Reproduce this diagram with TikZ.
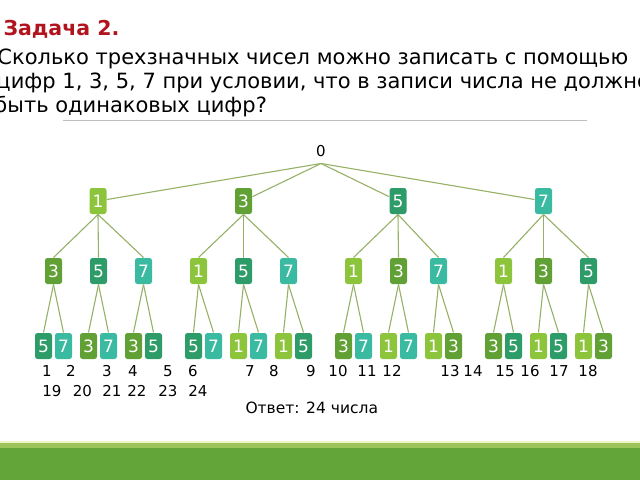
\documentclass[tikz,border=0pt]{standalone}
\usepackage{fontspec}
\setmainfont{DejaVu Sans}
\definecolor{cone}{RGB}{140,196,60}
\definecolor{cthree}{RGB}{96,160,52}
\definecolor{cfive}{RGB}{46,156,104}
\definecolor{cseven}{RGB}{58,186,160}
\definecolor{edgec}{RGB}{150,176,102}
\definecolor{titlered}{RGB}{178,20,30}
\definecolor{bandpale}{RGB}{236,244,200}
\definecolor{bandlight}{RGB}{157,197,91}
\definecolor{banddark}{RGB}{99,165,57}
\begin{document}
\begin{tikzpicture}[x=1pt,y=-1pt,line width=1pt,
  dig/.style={rounded corners=2.5pt,minimum width=17pt,minimum height=26pt,inner sep=0pt,
    text=white,font=\fontsize{17}{17}\selectfont},
  one/.style={dig,fill=cone},
  three/.style={dig,fill=cthree},
  five/.style={dig,fill=cfive},
  seven/.style={dig,fill=cseven},
  edge/.style={draw=edgec,line width=1.1pt},
  lbl/.style={anchor=base,font=\fontsize{15}{15}\selectfont}]
  \useasboundingbox (0,0) rectangle (640,480);

  % условие задачи
  \node[anchor=base west,inner sep=0pt,text=titlered,font=\fontsize{20.5}{20.5}\selectfont\bfseries]
    (title) at (3,35) {Задача 2.};
  \node[anchor=base west,inner sep=0pt,font=\fontsize{21}{21}\selectfont]
    (t1) at (-3,64) {Сколько трехзначных чисел можно записать с помощью};
  \node[anchor=base west,inner sep=0pt,font=\fontsize{21}{21}\selectfont]
    (t2) at (-4,88) {цифр 1, 3, 5, 7 при условии, что в записи числа не должно};
  \node[anchor=base west,inner sep=0pt,font=\fontsize{21}{21}\selectfont]
    (t3) at (-6,112) {быть одинаковых цифр?};
  \draw[gray!50,line width=0.8pt] (63,120) -- (587,120);

  % корень
  \node[inner sep=1pt,minimum height=24pt,font=\fontsize{15}{15}\selectfont] (r) at (321,151) {0};

  % первая цифра
  \node[one]   (n1) at (98,201)    {1};
  \node[three] (n3) at (243.5,201) {3};
  \node[five]  (n5) at (398,201)   {5};
  \node[seven] (n7) at (543.5,201) {7};

  % вторая цифра
  \node[three] (n13) at (53.5,271)  {3};
  \node[five]  (n15) at (98.5,271)  {5};
  \node[seven] (n17) at (143.5,271) {7};
  \node[one]   (n31) at (198.5,271) {1};
  \node[five]  (n35) at (243.5,271) {5};
  \node[seven] (n37) at (288.5,271) {7};
  \node[one]   (n51) at (353.5,271) {1};
  \node[three] (n53) at (398.5,271) {3};
  \node[seven] (n57) at (438.5,271) {7};
  \node[one]   (n71) at (503.5,271) {1};
  \node[three] (n73) at (543.5,271) {3};
  \node[five]  (n75) at (588.5,271) {5};

  % третья цифра
  \node[five]  (n135) at (43.5,346)  {5};
  \node[seven] (n137) at (63.5,346)  {7};
  \node[three] (n153) at (88.5,346)  {3};
  \node[seven] (n157) at (108.5,346) {7};
  \node[three] (n173) at (133.5,346) {3};
  \node[five]  (n175) at (153.5,346) {5};
  \node[five]  (n315) at (193.5,346) {5};
  \node[seven] (n317) at (213.5,346) {7};
  \node[one]   (n351) at (238.5,346) {1};
  \node[seven] (n357) at (258.5,346) {7};
  \node[one]   (n371) at (283.5,346) {1};
  \node[five]  (n375) at (303.5,346) {5};
  \node[three] (n513) at (343.5,346) {3};
  \node[seven] (n517) at (363.5,346) {7};
  \node[one]   (n531) at (388.5,346) {1};
  \node[seven] (n537) at (408.5,346) {7};
  \node[one]   (n571) at (433.5,346) {1};
  \node[three] (n573) at (453.5,346) {3};
  \node[three] (n713) at (493.5,346) {3};
  \node[five]  (n715) at (513.5,346) {5};
  \node[one]   (n731) at (538.5,346) {1};
  \node[five]  (n735) at (558.5,346) {5};
  \node[one]   (n751) at (583.5,346) {1};
  \node[three] (n753) at (603.5,346) {3};

  % ветви
  \draw[edge] (r.south) -- (n1);
  \draw[edge] (r.south) -- (n3);
  \draw[edge] (r.south) -- (n5);
  \draw[edge] (r.south) -- (n7);

  \draw[edge] (n1.south) -- (n13.north);
  \draw[edge] (n1.south) -- (n15.north);
  \draw[edge] (n1.south) -- (n17.north);
  \draw[edge] (n3.south) -- (n31.north);
  \draw[edge] (n3.south) -- (n35.north);
  \draw[edge] (n3.south) -- (n37.north);
  \draw[edge] (n5.south) -- (n51.north);
  \draw[edge] (n5.south) -- (n53.north);
  \draw[edge] (n5.south) -- (n57.north);
  \draw[edge] (n7.south) -- (n71.north);
  \draw[edge] (n7.south) -- (n73.north);
  \draw[edge] (n7.south) -- (n75.north);

  \draw[edge] (n13.south) -- (n135.north);
  \draw[edge] (n13.south) -- (n137.north);
  \draw[edge] (n15.south) -- (n153.north);
  \draw[edge] (n15.south) -- (n157.north);
  \draw[edge] (n17.south) -- (n173.north);
  \draw[edge] (n17.south) -- (n175.north);
  \draw[edge] (n31.south) -- (n315.north);
  \draw[edge] (n31.south) -- (n317.north);
  \draw[edge] (n35.south) -- (n351.north);
  \draw[edge] (n35.south) -- (n357.north);
  \draw[edge] (n37.south) -- (n371.north);
  \draw[edge] (n37.south) -- (n375.north);
  \draw[edge] (n51.south) -- (n513.north);
  \draw[edge] (n51.south) -- (n517.north);
  \draw[edge] (n53.south) -- (n531.north);
  \draw[edge] (n53.south) -- (n537.north);
  \draw[edge] (n57.south) -- (n571.north);
  \draw[edge] (n57.south) -- (n573.north);
  \draw[edge] (n71.south) -- (n713.north);
  \draw[edge] (n71.south) -- (n715.north);
  \draw[edge] (n73.south) -- (n731.north);
  \draw[edge] (n73.south) -- (n735.north);
  \draw[edge] (n75.south) -- (n751.north);
  \draw[edge] (n75.south) -- (n753.north);

  % нумерация
  \node[lbl] (l1)  at (47,376.5)  {1};
  \node[lbl] (l2)  at (71,376.5)  {2};
  \node[lbl] (l3)  at (107,376.5) {3};
  \node[lbl] (l4)  at (133,376.5) {4};
  \node[lbl] (l5)  at (168,376.5) {5};
  \node[lbl] (l6)  at (193,376.5) {6};
  \node[lbl] (l7)  at (250,376.5) {7};
  \node[lbl] (l8)  at (274,376.5) {8};
  \node[lbl] (l9)  at (311,376.5) {9};
  \node[lbl] (l10) at (338,376.5) {10};
  \node[lbl] (l11) at (367,376.5) {11};
  \node[lbl] (l12) at (392,376.5) {12};
  \node[lbl] (l13) at (450,376.5) {13};
  \node[lbl] (l14) at (473,376.5) {14};
  \node[lbl] (l15) at (505,376.5) {15};
  \node[lbl] (l16) at (530,376.5) {16};
  \node[lbl] (l17) at (559,376.5) {17};
  \node[lbl] (l18) at (588,376.5) {18};
  \node[lbl] (l19) at (52,396)    {19};
  \node[lbl] (l20) at (82.5,396)  {20};
  \node[lbl] (l21) at (112,396)   {21};
  \node[lbl] (l22) at (137,396)   {22};
  \node[lbl] (l23) at (168,396)   {23};
  \node[lbl] (l24) at (198,396)   {24};

  \node[anchor=base west,inner sep=0pt,font=\fontsize{15.5}{15.5}\selectfont]
    (ans) at (245,413) {Ответ: 24 числа};

  % нижняя полоса
  \fill[bandpale] (0,440.5) rectangle (640,442.5);
  \fill[bandlight] (0,442.5) rectangle (640,448);
  \fill[banddark] (0,448) rectangle (640,480);
\end{tikzpicture}
\end{document}
